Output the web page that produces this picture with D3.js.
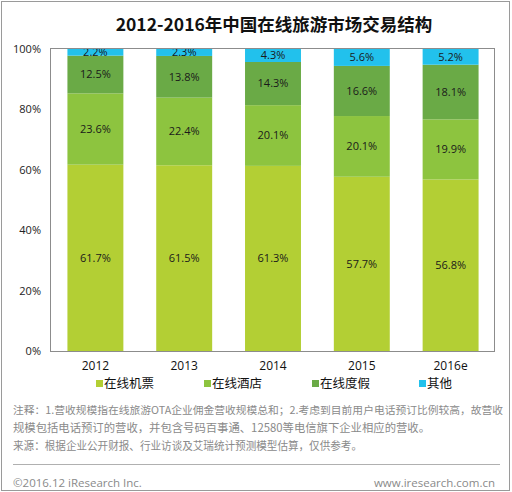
<!DOCTYPE html>
<html>
<head>
<meta charset="utf-8">
<script src="https://cdn.jsdelivr.net/npm/d3@7"></script>
<style>
  body { margin: 0; background: #fff; }
  svg text { font-family: "Noto Sans CJK SC", "Noto Sans", sans-serif; }
</style>
</head>
<body>
<div id="chart"></div>
<script>
// categories and series (share of transactions, %)
var years = ['2012', '2013', '2014', '2015', '2016e'];
var seriesNames = ['在线机票', '在线酒店', '在线度假', '其他'];
var flights = [61.7, 61.5, 61.3, 57.7, 56.8];
var hotels = [23.6, 22.4, 20.1, 20.1, 19.9];
var holidays = [12.5, 13.8, 14.3, 16.6, 18.1];
var others = [2.2, 2.3, 4.3, 5.6, 5.2];
var yTicks = [0, 20, 40, 60, 80, 100];
var colors = ['#b3cf34', '#8dc43f', '#6aaa46', '#22c1ec'];

var notes = [
  '注释：1.营收规模指在线旅游OTA企业佣金营收规模总和；2.考虑到目前用户电话预订比例较高，故营收',
  '规模包括电话预订的营收，并包含号码百事通、12580等电信旗下企业相应的营收。',
  '来源：根据企业公开财报、行业访谈及艾瑞统计预测模型估算，仅供参考。'
];
var noteWidths = [490, 417, 349];

var W = 512, H = 492;
var margin = {left: 51, right: 17, top: 49, bottom: 141};

var svg = d3.select('#chart').append('svg')
  .attr('width', W)
  .attr('height', H);

// outer frame
svg.append('rect')
  .attr('x', 1.5).attr('y', 1.5)
  .attr('width', W - 4).attr('height', H - 3)
  .attr('fill', '#fff')
  .attr('stroke', '#9a9a9a')
  .attr('stroke-width', 1);

svg.append('text')
  .attr('x', 274).attr('y', 31)
  .attr('text-anchor', 'middle')
  .style('font-size', '17.5px')
  .style('font-weight', 'bold')
  .attr('fill', '#111')
  .text('2012-2016年中国在线旅游市场交易结构');

var x = d3.scaleBand()
  .domain(years)
  .range([margin.left, W - margin.right])
  .paddingInner(0.37)
  .paddingOuter(0.185);

var y = d3.scaleLinear()
  .domain([0, 100])
  .range([H - margin.bottom, margin.top]);

var table = years.map(function(yr, i){
  return {year: yr, s0: flights[i], s1: hotels[i], s2: holidays[i], s3: others[i]};
});
var stack = d3.stack().keys(['s0', 's1', 's2', 's3']);
var layers = stack(table);

var g = svg.append('g');

layers.forEach(function(layer, k){
  g.selectAll('rect.s' + k)
    .data(layer)
    .enter()
    .append('rect')
    .attr('class', 's' + k)
    .attr('x', function(d){ return x(d.data.year) })
    .attr('y', function(d){ return y(d[1]) })
    .attr('width', x.bandwidth())
    .attr('height', function(d){ return y(d[0]) - y(d[1]) })
    .attr('fill', colors[k]);

  g.selectAll('text.l' + k)
    .data(layer)
    .enter()
    .append('text')
    .attr('class', 'l' + k)
    .attr('x', function(d){ return x(d.data.year) + x.bandwidth() / 2 })
    .attr('y', function(d){ return (y(d[0]) + y(d[1])) / 2 })
    .attr('dy', '0.35em')
    .attr('text-anchor', 'middle')
    .style('font-size', '11px')
    .style('font-family', '"Open Sans", sans-serif')
    .attr('fill', '#1a1a1a')
    .text(function(d){ return d.data['s' + k].toFixed(1) + '%' });
});

// plot frame
svg.append('rect')
  .attr('x', margin.left - 0.5)
  .attr('y', margin.top - 0.5)
  .attr('width', W - margin.left - margin.right)
  .attr('height', H - margin.top - margin.bottom + 1)
  .attr('fill', 'none')
  .attr('stroke', '#8c8c8c');

// y axis
var yAxis = d3.axisLeft(y)
  .tickValues(yTicks)
  .tickSize(0)
  .tickPadding(10)
  .tickFormat(function(d){ return d + '%' });
var ya = svg.append('g')
  .attr('transform', 'translate(' + margin.left + ',0)')
  .call(yAxis);
ya.select('.domain').remove();
ya.selectAll('text')
  .style('font-size', '11px')
  .style('font-family', '"Open Sans", sans-serif')
  .attr('fill', '#222');

// x axis
var xAxis = d3.axisBottom(x).tickSize(0).tickPadding(10);
var xa = svg.append('g')
  .attr('transform', 'translate(0,' + (H - margin.bottom) + ')')
  .call(xAxis);
xa.select('.domain').remove();
xa.selectAll('text')
  .style('font-size', '12px')
  .style('font-family', '"Open Sans", sans-serif')
  .attr('fill', '#111');

// legend
var legendX = [96, 204, 312, 419];
var legend = svg.selectAll('g.legend')
  .data(seriesNames)
  .enter()
  .append('g')
  .attr('class', 'legend')
  .attr('transform', function(d, i){ return 'translate(' + legendX[i] + ',384)' });
legend.append('rect')
  .attr('x', 0).attr('y', -4)
  .attr('width', 7).attr('height', 7)
  .attr('fill', function(d, i){ return colors[i] });
legend.append('text')
  .attr('x', 8).attr('y', 0)
  .attr('dy', '0.35em')
  .style('font-size', '12.5px')
  .attr('fill', '#111')
  .text(function(d){ return d });

// notes
svg.selectAll('text.note')
  .data(notes)
  .enter()
  .append('text')
  .attr('class', 'note')
  .attr('x', 13)
  .attr('y', function(d, i){ return 414 + i * 18 })
  .attr('textLength', function(d, i){ return noteWidths[i] })
  .attr('lengthAdjust', 'spacingAndGlyphs')
  .style('font-size', function(d, i){ return i === 0 ? '10.5px' : '11.5px' })
  .attr('fill', '#8a8a8a')
  .text(function(d){ return d });

svg.append('line')
  .attr('x1', 13).attr('x2', 500)
  .attr('y1', 464.5).attr('y2', 464.5)
  .attr('stroke', '#b0b0b0');

svg.append('text')
  .attr('x', 13).attr('y', 487)
  .style('font-size', '11.5px')
  .style('font-family', '"Open Sans", sans-serif')
  .attr('fill', '#8a8a8a')
  .text('©2016.12 iResearch Inc.');

svg.append('text')
  .attr('x', 495).attr('y', 487)
  .attr('text-anchor', 'end')
  .style('font-size', '11.5px')
  .style('font-family', '"Open Sans", sans-serif')
  .attr('fill', '#8a8a8a')
  .text('www.iresearch.com.cn');
</script>
</body>
</html>
